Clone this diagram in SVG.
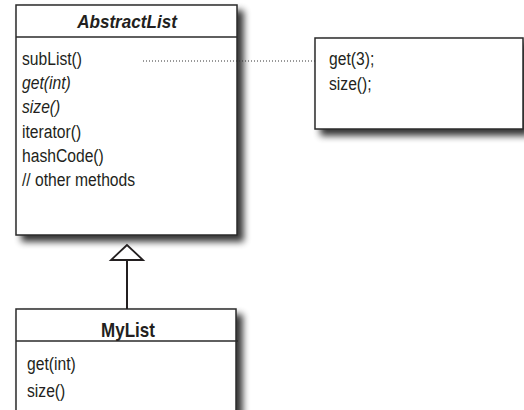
<svg xmlns="http://www.w3.org/2000/svg" width="524" height="410" viewBox="0 0 524 410">
<defs>
<filter id="sh" x="-10%" y="-10%" width="130%" height="130%">
<feGaussianBlur in="SourceAlpha" stdDeviation="3.5"/>
<feOffset dx="6" dy="6" result="b"/>
<feComponentTransfer><feFuncA type="linear" slope="0.8"/></feComponentTransfer>
<feMerge><feMergeNode/><feMergeNode in="SourceGraphic"/></feMerge>
</filter>
<style>
.box{fill:#fff;stroke:#2a2a2a;stroke-width:1.5}
.div{stroke:#2a2a2a;stroke-width:1.3}
text{font-family:"Liberation Sans",Arial,sans-serif;fill:#231f20}
.t{font-weight:bold;text-anchor:middle}
.m{font-size:18px}
.i{font-style:italic}
</style>
</defs>
<rect width="524" height="410" fill="#fff"/>
<g id="abstractlist">
<rect class="box" x="16" y="5" width="221" height="230" filter="url(#sh)"/>
<line class="div" x1="16" y1="37" x2="237" y2="37"/>
<text class="t i" font-size="18" transform="translate(127,27.5) scale(0.95,1)">AbstractList</text>
<text class="m" transform="translate(22,65) scale(0.87,1)">subList()</text>
<text class="m i" transform="translate(22,89) scale(0.87,1)">get(int)</text>
<text class="m i" transform="translate(22,113) scale(0.87,1)">size()</text>
<text class="m" transform="translate(22,138) scale(0.87,1)">iterator()</text>
<text class="m" transform="translate(22,162) scale(0.87,1)">hashCode()</text>
<text class="m" transform="translate(22,186) scale(0.87,1)">// other methods</text>
</g>
<g id="note">
<rect class="box" x="315" y="38" width="208" height="91" filter="url(#sh)"/>
<text class="m" transform="translate(329,65) scale(0.87,1)">get(3);</text>
<text class="m" transform="translate(329,90) scale(0.87,1)">size();</text>
</g>
<g id="mylist">
<rect class="box" x="16" y="309" width="220" height="105" filter="url(#sh)"/>
<line class="div" x1="16" y1="341" x2="238" y2="341"/>
<text class="t" font-size="20" transform="translate(128,336.5) scale(0.85,1)">MyList</text>
<text class="m" transform="translate(27,370) scale(0.87,1)">get(int)</text>
<text class="m" transform="translate(27,397) scale(0.87,1)">size()</text>
</g>
<g id="connectors">
<line x1="143" y1="61" x2="315" y2="61" stroke="#333" stroke-width="1" stroke-dasharray="1,2"/>
<line x1="127" y1="260" x2="127" y2="309" stroke="#231f20" stroke-width="2"/>
<polygon points="127,245 111,260 143,260" fill="#fff" stroke="#231f20" stroke-width="1.8" stroke-linejoin="miter"/>
</g>
</svg>
